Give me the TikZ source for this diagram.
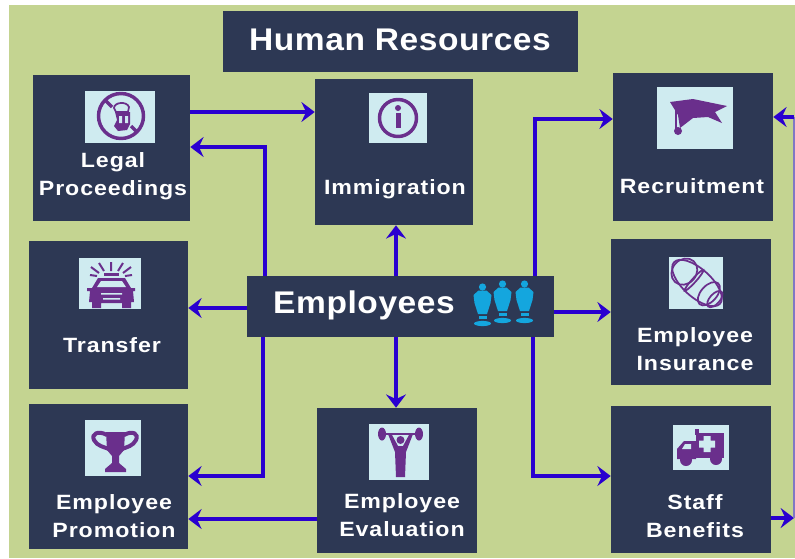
\documentclass[tikz,border=0pt]{standalone}
\usepackage{fontspec}
\newfontfamily\boxfont[FakeStretch=1.12,LetterSpace=4.5]{Liberation Sans}
\newfontfamily\headfont[FakeStretch=1.07,LetterSpace=1.8]{Liberation Sans}
\usetikzlibrary{
  arrows.meta,
  chains,
  scopes
}
\definecolor{fieldgreen}{HTML}{C4D491}
\definecolor{boxnavy}{HTML}{2D3854}
\definecolor{iconpale}{HTML}{CFEBF0}
\definecolor{iconpurple}{HTML}{6A2F8C}
\definecolor{linkblue}{HTML}{2A00D0}
\definecolor{riserblue}{HTML}{8078C4}
\definecolor{figureblue}{HTML}{14A6DE}
% one standing figure of the Employees box
\newcommand{\staffman}[2]{
  \fill[figureblue] (#1,#2-19) circle (3.6);
  \fill[figureblue] (#1-4,#2-15.5) -- (#1+4,#2-15.5) -- (#1+9,#2-11) -- (#1+8,#2-3)
     -- (#1+4.5,#2+8) -- (#1-4.5,#2+8) -- (#1-8,#2-3) -- (#1-9,#2-11) -- cycle;
  \fill[figureblue] (#1-4,#2+10) rectangle (#1+4,#2+13);
  \fill[figureblue] (#1,#2+17.5) ellipse (8.5 and 2.6);
}
\begin{document}
\begin{tikzpicture}[
      x=0.75pt,y=-0.75pt,
      navybox/.style 2 args={
         rectangle,
         inner sep=0pt,
         fill=boxnavy,
         minimum width=#1*0.75pt,
         minimum height=#2*0.75pt
      },
      iconbox/.style 2 args={
         rectangle,
         inner sep=0pt,
         fill=iconpale,
         minimum width=#1*0.75pt,
         minimum height=#2*0.75pt
      },
      boxtext/.style={
         text=white,
         align=center,
         inner sep=0pt,
         font=\boxfont\bfseries\fontsize{15.5pt}{21pt}\selectfont
      },
      headtext/.style={
         text=white,
         inner sep=0pt,
         font=\headfont\bfseries\fontsize{23.5pt}{28pt}\selectfont
      },
      point/.style={coordinate},
      >={Stealth[length=10pt,width=15pt,inset=3.5pt]},
      link/.style={draw=linkblue,line width=3.1pt},
      tip/.style={->,link},
      riser/.style={draw=riserblue,line width=1.5pt},
      vh tip/.style={tip,to path={|- (\tikztotarget)}},
      iconline/.style={draw=iconpurple,line width=2.6pt},
      iconthin/.style={draw=iconpurple,line width=1.3pt},
      iconfill/.style={fill=iconpurple}
    ]
  \useasboundingbox (0,0) rectangle (795,558);
  \fill[fieldgreen] (9,5) rectangle (795,558);

  % boxes
  \node (title) [navybox={355}{61}] at (400.5,41.5) {};
  \node (legal) [navybox={157}{146}] at (111.5,148) {};
  \node (immigration) [navybox={158}{146}] at (394,152) {};
  \node (recruitment) [navybox={160}{148}] at (693,147) {};
  \node (transfer) [navybox={159}{148}] at (108.5,315) {};
  \node (employees) [navybox={307}{61}] at (400.5,306.5) {};
  \node (insurance) [navybox={160}{146}] at (691,312) {};
  \node (promotion) [navybox={159}{145}] at (108.5,476.5) {};
  \node (evaluation) [navybox={160}{145}] at (397,480.5) {};
  \node (benefits) [navybox={160}{147}] at (691,479.5) {};

  % texts
  \node (titletext) [headtext] at (400,40) {Human Resources};
  \node (employeestext) [headtext] at (364,305) {Employees};
  \node (legaltext) [boxtext] at (113,176) {Legal\\Proceedings};
  \node (immigrationtext) [boxtext] at (395,189) {Immigration};
  \node (recruitmenttext) [boxtext] at (692,186) {Recruitment};
  \node (transfertext) [boxtext] at (112,345) {Transfer};
  \node (insurancetext) [boxtext] at (695,349.5) {Employee\\Insurance};
  \node (promotiontext) [boxtext] at (114,516.5) {Employee\\Promotion};
  \node (evaluationtext) [boxtext] at (402,515.5) {Employee\\Evaluation};
  \node (benefitstext) [boxtext] at (695,516.5) {Staff\\Benefits};

  % icons
  \node (legalicon) [iconbox={70}{52}] at (120,117) {};
  \node (immigrationicon) [iconbox={58}{50}] at (398,118) {};
  \node (recruitmenticon) [iconbox={76}{62}] at (695,118) {};
  \node (transfericon) [iconbox={62}{51}] at (110,283.5) {};
  \node (insuranceicon) [iconbox={54}{52}] at (696,283) {};
  \node (promotionicon) [iconbox={56}{56}] at (113,448) {};
  \node (evaluationicon) [iconbox={60}{56}] at (399,452) {};
  \node (benefitsicon) [iconbox={56}{45}] at (701,447.5) {};

  % no entry sign
  \draw[iconline] (121,116) circle (22.5);
  \draw[iconline] (106,101) -- (112,107) (131,126) -- (136,131);
  \draw[iconthin] (114,108) .. controls (114,102) and (127,101) .. (129,107) -- (128,112) -- (116,112) -- cycle;
  \fill[iconfill] (115,112) -- (130,112) -- (130,124) -- (127,130) -- (118,131) -- (114,126) -- (117,120) -- cycle;
  \fill[iconpale] (119,116) rectangle (122,123) (125,116) rectangle (128,123);
  % info sign
  \draw[iconline] (398,118) circle (18.5);
  \fill[iconfill] (398,108) circle (3);
  \fill[iconfill] (395.5,113) rectangle (400.5,128);
  % mortar board
  \fill[iconfill] (670,102) -- (693,99) -- (727,106) -- (715,112) -- (722,123) -- (708,117)
     -- (693,118) -- (680,128) -- (678,115) -- cycle;
  \draw[iconthin] (676,110) -- (676,128);
  \fill[iconfill] (678,131) circle (4);
  % police car
  \draw[iconline,line width=1.5pt] (111,271) -- (111,262) (104,271) -- (99,263) (118,271) -- (123,263)
     (99,273) -- (91,267) (123,273) -- (131,267) (97,276) -- (90,275) (125,276) -- (132,275);
  \fill[iconfill] (104,273) rectangle (119,276);
  \fill[iconfill] (98,278) -- (125,278) -- (131,288) -- (135,288) -- (135,291) -- (133,291) -- (134,302)
     -- (131,302) -- (131,308) -- (122,308) -- (122,303) -- (101,303) -- (101,308) -- (92,308)
     -- (92,302) -- (89,302) -- (90,291) -- (87,291) -- (87,288) -- (92,288) -- cycle;
  \fill[iconpale] (101,281) -- (122,281) -- (126,287) -- (97,287) -- cycle;
  \fill[iconpale] (101,293) rectangle (122,294.5) (103,298) rectangle (120,299.5);
  % bandaged limb
  \begin{scope}[rotate around={-42:(697,283)}]
    \draw[iconthin] (697,283) ellipse (31 and 14);
    \draw[iconthin] (680,283) ellipse (12 and 14);
    \draw[iconthin] (693,283) ellipse (2 and 14);
    \draw[iconthin] (713,283) ellipse (8 and 14);
    \draw[iconthin] (721,283) ellipse (5 and 10);
  \end{scope}
  % trophy
  \fill[iconfill] (106,432) -- (125,432) -- (124,450) -- (119,456) -- (119,463) -- (126,469) -- (126,472)
     -- (105,472) -- (105,469) -- (112,463) -- (112,456) -- (107,450) -- cycle;
  \draw[iconline,line width=3pt] (107,435) .. controls (98,430) and (91,434) .. (94,440) .. controls (97,446) and (104,447) .. (109,449);
  \draw[iconline,line width=3pt] (124,435) .. controls (133,430) and (139,434) .. (136,440) .. controls (133,446) and (127,447) .. (122,449);
  % weight lifter
  \draw[iconline,line width=1.5pt] (382,434) -- (419,434);
  \fill[iconfill] (382,434) ellipse (4 and 6.5);
  \fill[iconfill] (419,434) ellipse (4 and 6.5);
  \fill[iconfill] (400.5,440) circle (4);
  \fill[iconfill] (388,434) -- (391.5,434) -- (398,446) -- (403,446) -- (409.5,434) -- (413,434) -- (406,452) -- (405,477)
     -- (396,477) -- (395,452) -- cycle;
  % ambulance
  \fill[iconfill] (696,433) rectangle (724,458);
  \fill[iconfill] (695,435) rectangle (699,429);
  \fill[iconfill] (677,459) -- (677,449) -- (684,441) -- (696,441) -- (696,459) -- cycle;
  \fill[iconpale] (685,444) -- (691,444) -- (691,449) -- (682,449) -- cycle;
  \fill[iconpale] (703.5,436) rectangle (710.5,452) (699,440.5) rectangle (715,447.5);
  \fill[iconfill] (686,460) circle (6);
  \fill[iconfill] (716,459) circle (6);
  % people
  \staffman{482.5}{306}
  \staffman{502.5}{303}
  \staffman{524.5}{303}

  % connector ends
  \node (legalout) [point] at (legal.east |- 0,112) {};
  \node (immigrationin) [point] at (immigration.west |- 0,112) {};
  \node (legalin) [point] at (legal.east |- 0,147) {};
  \node (employeesnw) [point] at (employees.north -| 265,0) {};
  \node (immigrationdown) [point] at (immigration.south -| 396,0) {};
  \node (employeesup) [point] at (employees.north -| 396,0) {};
  \node (employeesne) [point] at (employees.north -| 535,0) {};
  \node (recruitmentin) [point] at (recruitment.west |- 0,119) {};
  \node (employeesleft) [point] at (employees.west |- 0,308) {};
  \node (transferin) [point] at (transfer.east |- 0,308) {};
  \node (employeesright) [point] at (employees.east |- 0,312) {};
  \node (insurancein) [point] at (insurance.west |- 0,312) {};
  \node (employeessw) [point] at (employees.south -| 263,0) {};
  \node (promotionin) [point] at (promotion.east |- 0,476) {};
  \node (employeesdown) [point] at (employees.south -| 396,0) {};
  \node (evaluationin) [point] at (evaluation.north -| 396,0) {};
  \node (evaluationout) [point] at (evaluation.west |- 0,519) {};
  \node (promotionlow) [point] at (promotion.east |- 0,519) {};
  \node (employeesse) [point] at (employees.south -| 533,0) {};
  \node (benefitsin) [point] at (benefits.west |- 0,476) {};
  \node (benefitsout) [point] at (benefits.east |- 0,518) {};
  \node (riserlow) [point] at (794,518) {};
  \node (riserhigh) [point] at (794,117) {};
  \node (recruitmentback) [point] at (recruitment.east |- 0,117) {};

  { [start chain]
       \chainin (legalout);
       \chainin (immigrationin)    [join=by tip];
  }
  { [start chain]
       \chainin (employeesnw);
       \chainin (legalin)    [join=by vh tip];
  }
  { [start chain]
       \chainin (employeesup);
       \chainin (immigrationdown)    [join=by tip];
  }
  { [start chain]
       \chainin (employeesne);
       \chainin (recruitmentin)    [join=by vh tip];
  }
  { [start chain]
       \chainin (employeesleft);
       \chainin (transferin)    [join=by tip];
  }
  { [start chain]
       \chainin (employeesright);
       \chainin (insurancein)    [join=by tip];
  }
  { [start chain]
       \chainin (employeessw);
       \chainin (promotionin)    [join=by vh tip];
  }
  { [start chain]
       \chainin (employeesdown);
       \chainin (evaluationin)    [join=by tip];
  }
  { [start chain]
       \chainin (evaluationout);
       \chainin (promotionlow)    [join=by tip];
  }
  { [start chain]
       \chainin (employeesse);
       \chainin (benefitsin)    [join=by vh tip];
  }
  { [start chain]
       \chainin (benefitsout);
       \chainin (riserlow)    [join=by tip];
  }
  { [start chain]
       \chainin (riserlow);
       \chainin (riserhigh)    [join=by riser];
  }
  { [start chain]
       \chainin (riserhigh);
       \chainin (recruitmentback)    [join=by tip];
  }
\end{tikzpicture}
\end{document}
